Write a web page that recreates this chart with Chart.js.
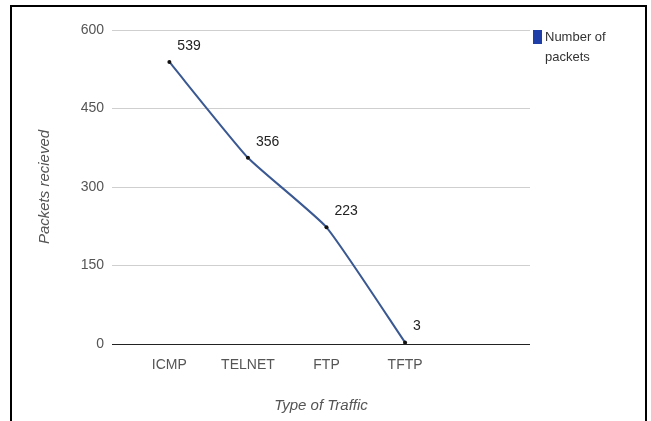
<!DOCTYPE html>
<html>
<head>
<meta charset="utf-8">
<style>
  html, body { margin: 0; padding: 0; background: #fff; }
  #wrap { position: relative; width: 651px; height: 421px; }
</style>
<script src="https://cdn.jsdelivr.net/npm/chart.js@4.4.1/dist/chart.umd.min.js"></script>
</head>
<body>
<div id="wrap"><canvas id="trafficChart" width="651" height="421"></canvas></div>
<script>
/*************************************************
 * DATA
 *************************************************/
const trafficTypes = ["ICMP", "TELNET", "FTP", "TFTP"];
const packetsReceived = [539, 356, 223, 3];
const yTicks = [0, 150, 300, 450, 600];
const seriesName = ["Number of", "packets"];

const FONT = "'Liberation Sans', Arial, sans-serif";
const LINE_COLOR = "#3a5892";
const LEGEND_COLOR = "#1f3ea8";

/*************************************************
 * PLUGINS
 *************************************************/
// value next to each point
const valueLabels = {
  id: "valueLabels",
  afterDatasetsDraw(chart) {
    const ctx = chart.ctx;
    const meta = chart.getDatasetMeta(0);
    ctx.save();
    ctx.font = "14px " + FONT;
    ctx.fillStyle = "#222";
    ctx.textAlign = "left";
    ctx.textBaseline = "middle";
    meta.data.forEach((pt, i) => {
      ctx.fillText(String(packetsReceived[i]), pt.x + 8, pt.y - 16);
    });
    ctx.restore();
  }
};

// legend box on the right + outer frame
const sideLegend = {
  id: "sideLegend",
  afterDraw(chart) {
    const ctx = chart.ctx;
    const x = chart.chartArea.right + 3;
    const y = chart.chartArea.top;
    ctx.save();
    ctx.fillStyle = LEGEND_COLOR;
    ctx.fillRect(x, y, 9, 14);
    ctx.font = "13px " + FONT;
    ctx.fillStyle = "#333";
    ctx.textBaseline = "middle";
    ctx.fillText(seriesName[0], x + 12, y + 7);
    ctx.fillText(seriesName[1], x + 12, y + 27);

    ctx.strokeStyle = "#000";
    ctx.lineWidth = 2;
    ctx.strokeRect(11, 6, 635, 440);
    ctx.restore();
  }
};

/*************************************************
 * CHART
 *************************************************/
const ctx = document.getElementById("trafficChart").getContext("2d");

new Chart(ctx, {
  type: "line",
  data: {
    datasets: [{
      label: seriesName.join(" "),
      data: packetsReceived.map((v, i) => ({ x: i, y: v })),
      borderColor: LINE_COLOR,
      borderWidth: 2,
      tension: 0.15,
      pointRadius: 2,
      pointBackgroundColor: "#111",
      pointBorderColor: "#111",
      pointBorderWidth: 0,
      fill: false
    }]
  },
  options: {
    responsive: false,
    animation: false,
    layout: { padding: { left: 36, right: 121, top: 30, bottom: 0 } },
    plugins: {
      legend: { display: false },
      tooltip: { enabled: false }
    },
    scales: {
      x: {
        type: "linear",
        min: -0.73,
        max: 4.59,
        afterBuildTicks: scale => {
          scale.ticks = trafficTypes.map((_, i) => ({ value: i }));
        },
        afterFit: scale => { scale.height = 77; },
        grid: { display: false, drawTicks: false },
        border: { display: false },
        ticks: {
          autoSkip: false,
          maxRotation: 0,
          padding: 13,
          color: "#555",
          font: { family: FONT, size: 14 },
          callback: v => trafficTypes[v] ?? ""
        },
        title: {
          display: true,
          text: "Type of Traffic",
          color: "#555",
          padding: { top: 0, bottom: 6 },
          font: { family: FONT, size: 15, style: "italic" }
        }
      },
      y: {
        min: 0,
        max: 600,
        afterBuildTicks: scale => {
          scale.ticks = yTicks.map(v => ({ value: v }));
        },
        afterFit: scale => { scale.width = 76; },
        grid: {
          drawTicks: false,
          lineWidth: 1,
          color: c => (c.tick && c.tick.value === 0 ? "#222" : "#cfcfcf")
        },
        border: { display: false },
        ticks: {
          padding: 8,
          color: "#555",
          font: { family: FONT, size: 14 }
        },
        title: {
          display: true,
          text: "Packets recieved",
          color: "#555",
          padding: { top: 0, bottom: 0 },
          font: { family: FONT, size: 15, style: "italic" }
        }
      }
    }
  },
  plugins: [valueLabels, sideLegend]
});
</script>
</body>
</html>
